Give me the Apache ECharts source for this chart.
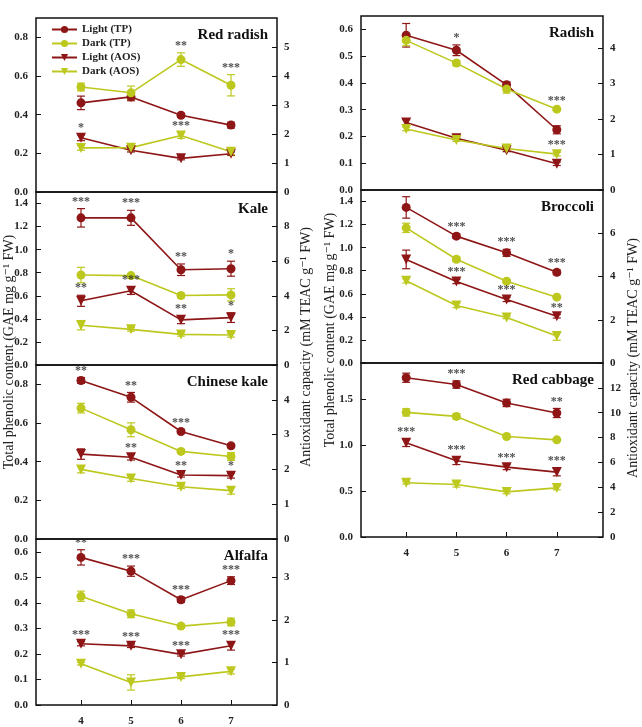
<!DOCTYPE html>
<html>
<head>
<meta charset="utf-8">
<script src="https://cdn.jsdelivr.net/npm/echarts@6/dist/echarts.min.js"></script>
<style>
  html, body { margin: 0; padding: 0; background: #fff; }
  #chart { width: 642px; height: 727px; }
</style>
</head>
<body>
<div id="chart"></div>
<script>
// sprout days on the x axis
const doses = [4, 5, 6, 7];
const panels = ['Red radish', 'Kale', 'Chinese kale', 'Alfalfa', 'Radish', 'Broccoli', 'Red cabbage'];

// total phenolic content (left axis), one row per panel
const lightTP = [
    [0.461, 0.492, 0.397, 0.346],
    [1.276, 1.276, 0.826, 0.835],
    [0.820, 0.733, 0.556, 0.482],
    [0.578, 0.524, 0.412, 0.487],
    [0.578, 0.522, 0.393, 0.225],
    [1.349, 1.100, 0.955, 0.786],
    [1.739, 1.665, 1.464, 1.354]
];
const lightTPErr = [
    [0.035, 0.02, 0.01, 0.015],
    [0.08, 0.065, 0.05, 0.065],
    [0.015, 0.025, 0.01, 0.01],
    [0.03, 0.02, 0.01, 0.015],
    [0.044, 0.02, 0.01, 0.015],
    [0.093, 0.02, 0.03, 0.02],
    [0.05, 0.04, 0.04, 0.05]
];
const darkTP = [
    [0.543, 0.513, 0.685, 0.552],
    [0.780, 0.775, 0.602, 0.608],
    [0.677, 0.565, 0.453, 0.427],
    [0.426, 0.357, 0.309, 0.325],
    [0.559, 0.474, 0.377, 0.302],
    [1.172, 0.900, 0.709, 0.571],
    [1.361, 1.317, 1.098, 1.061]
];
const darkTPErr = [
    [0.02, 0.035, 0.035, 0.055],
    [0.067, 0.015, 0.02, 0.053],
    [0.025, 0.036, 0.01, 0.02],
    [0.02, 0.015, 0.008, 0.015],
    [0.02, 0.01, 0.015, 0.005],
    [0.04, 0.02, 0.01, 0.01],
    [0.04, 0.03, 0.015, 0.015]
];

// antioxidant capacity (right axis)
const lightAOS = [
    [1.87, 1.44, 1.16, 1.32],
    [3.71, 4.29, 2.61, 2.74],
    [2.44, 2.35, 1.84, 1.82],
    [1.44, 1.39, 1.19, 1.39],
    [1.90, 1.46, 1.12, 0.74],
    [4.79, 3.77, 2.94, 2.16],
    [7.58, 6.13, 5.62, 5.22]
];
const lightAOSErr = [
    [0.1, 0.06, 0.05, 0.06],
    [0.32, 0.21, 0.22, 0.28],
    [0.15, 0.08, 0.06, 0.07],
    [0.05, 0.04, 0.04, 0.1],
    [0.08, 0.04, 0.04, 0.05],
    [0.43, 0.1, 0.1, 0.08],
    [0.3, 0.3, 0.2, 0.3]
];
const darkAOS = [
    [1.52, 1.53, 1.95, 1.39],
    [2.30, 2.06, 1.77, 1.73],
    [2.00, 1.74, 1.50, 1.39],
    [0.97, 0.53, 0.66, 0.79],
    [1.72, 1.41, 1.17, 1.01],
    [3.80, 2.66, 2.10, 1.25],
    [4.36, 4.22, 3.63, 3.95]
];
const darkAOSErr = [
    [0.08, 0.08, 0.1, 0.1],
    [0.27, 0.1, 0.1, 0.12],
    [0.1, 0.08, 0.05, 0.1],
    [0.03, 0.18, 0.04, 0.06],
    [0.05, 0.04, 0.05, 0.05],
    [0.1, 0.1, 0.05, 0.2],
    [0.1, 0.2, 0.15, 0.15]
];

// significance marks
const tpStars = [
    ['', '', '**', '***'],
    ['***', '***', '**', '*'],
    ['**', '**', '***', ''],
    ['**', '***', '***', '***'],
    ['', '*', '', '***'],
    ['', '***', '***', '***'],
    ['', '***', '', '**']
];
const aosStars = [
    ['*', '', '***', ''],
    ['**', '***', '**', '*'],
    ['', '**', '**', '*'],
    ['***', '***', '***', '***'],
    ['', '', '', '***'],
    ['', '***', '***', '**'],
    ['***', '***', '***', '***']
];

// axis ranges
const tpMax = [0.9, 1.5, 0.9, 0.65, 0.65, 1.5, 1.9];
const tpStep = [0.2, 0.2, 0.2, 0.1, 0.1, 0.2, 0.5];
const aosMax = [6, 10, 5, 3.9, 4.9, 8, 14];
const aosStep = [1, 2, 1, 1, 1, 2, 2];

const LIGHT = '#8e1616';
const DARK = '#bcc81e';
const SERIF = '"Liberation Serif", "DejaVu Serif", serif';

// panel boxes
const boxes = [
    { left: 36, width: 241, top: 18, height: 174 },
    { left: 36, width: 241, top: 192, height: 173 },
    { left: 36, width: 241, top: 365, height: 174 },
    { left: 36, width: 241, top: 539, height: 174 },
    { left: 361, width: 242, top: 16, height: 174 },
    { left: 361, width: 242, top: 190, height: 173 },
    { left: 361, width: 242, top: 363, height: 174 }
];
const bottomPanels = [3, 6];

function errItem(params, api) {
    const x = api.value(0);
    const p1 = api.coord([x, api.value(1)]);
    const p2 = api.coord([x, api.value(2)]);
    const w = 4;
    const style = { stroke: api.visual('color'), lineWidth: 1.2 };
    return {
        type: 'group',
        children: [
            { type: 'line', shape: { x1: p1[0], y1: p1[1], x2: p2[0], y2: p2[1] }, style: style },
            { type: 'line', shape: { x1: p1[0] - w, y1: p1[1], x2: p1[0] + w, y2: p1[1] }, style: style },
            { type: 'line', shape: { x1: p2[0] - w, y1: p2[1], x2: p2[0] + w, y2: p2[1] }, style: style }
        ]
    };
}

const grids = [], xAxes = [], yAxes = [], series = [], titles = [];

boxes.forEach(function (b, p) {
    const bottom = bottomPanels.indexOf(p) >= 0;
    grids.push({
        left: b.left, top: b.top, width: b.width, height: b.height,
        show: true, borderColor: '#111', borderWidth: 1.5
    });
    xAxes.push({
        type: 'value', gridIndex: p, min: 3.1, max: 7.92,
        axisLine: { show: false },
        splitLine: { show: false },
        axisTick: { show: bottom, inside: true, length: 5, customValues: doses, lineStyle: { color: '#111' } },
        axisLabel: {
            show: bottom, customValues: doses, margin: 11,
            fontFamily: SERIF, fontWeight: 'bold', fontSize: 11, color: '#222'
        }
    });
    yAxes.push({
        type: 'value', gridIndex: p, position: 'left', min: 0, max: tpMax[p], interval: tpStep[p],
        axisLine: { show: false },
        splitLine: { show: false },
        axisTick: { show: true, inside: true, length: 5, lineStyle: { color: '#111' } },
        axisLabel: {
            showMaxLabel: false, margin: 8,
            formatter: function (v) { return v.toFixed(1); },
            fontFamily: SERIF, fontWeight: 'bold', fontSize: 11, color: '#222'
        }
    });
    yAxes.push({
        type: 'value', gridIndex: p, position: 'right', min: 0, max: aosMax[p], interval: aosStep[p],
        axisLine: { show: false },
        splitLine: { show: false },
        axisTick: { show: true, inside: true, length: 5, lineStyle: { color: '#111' } },
        axisLabel: {
            showMaxLabel: false, margin: 7,
            fontFamily: SERIF, fontWeight: 'bold', fontSize: 11, color: '#222'
        }
    });

    titles.push({
        text: panels[p],
        right: 642 - (b.left + b.width - 9),
        top: b.top + 10,
        padding: 0,
        textStyle: { fontFamily: SERIF, fontWeight: 'bold', fontSize: 15, color: '#111' }
    });

    const sets = [
        { name: 'Light (TP)', v: lightTP[p], e: lightTPErr[p], c: LIGHT, y: 2 * p, sym: 'circle', rot: 0 },
        { name: 'Dark (TP)', v: darkTP[p], e: darkTPErr[p], c: DARK, y: 2 * p, sym: 'circle', rot: 0 },
        { name: 'Light (AOS)', v: lightAOS[p], e: lightAOSErr[p], c: LIGHT, y: 2 * p + 1, sym: 'triangle', rot: 180 },
        { name: 'Dark (AOS)', v: darkAOS[p], e: darkAOSErr[p], c: DARK, y: 2 * p + 1, sym: 'triangle', rot: 180 }
    ];
    sets.forEach(function (s) {
        series.push({
            type: 'custom', name: 'err', xAxisIndex: p, yAxisIndex: s.y,
            renderItem: errItem, itemStyle: { color: s.c }, z: 2,
            encode: { x: 0, y: [1, 2] },
            data: doses.map(function (d, i) { return [d, s.v[i] - s.e[i], s.v[i] + s.e[i]]; })
        });
        series.push({
            type: 'line', name: s.name, xAxisIndex: p, yAxisIndex: s.y,
            symbol: s.sym, symbolSize: s.sym === 'circle' ? 9 : 10, symbolRotate: s.rot,
            itemStyle: { color: s.c }, lineStyle: { color: s.c, width: 1.6 }, z: 3,
            data: doses.map(function (d, i) { return [d, s.v[i]]; })
        });
    });

    // stars above the taller error bar of each light/dark pair
    const starSets = [
        { marks: tpStars[p], a: sets[0], b: sets[1], y: 2 * p },
        { marks: aosStars[p], a: sets[2], b: sets[3], y: 2 * p + 1 }
    ];
    starSets.forEach(function (st) {
        const pts = [];
        doses.forEach(function (d, i) {
            if (!st.marks[i]) return;
            const top = Math.max(st.a.v[i] + st.a.e[i], st.b.v[i] + st.b.e[i]);
            pts.push([d, top, st.marks[i]]);
        });
        series.push({
            type: 'scatter', name: 'stars', xAxisIndex: p, yAxisIndex: st.y,
            symbolSize: 0, z: 4, silent: true,
            label: {
                show: true, position: 'top', distance: 1,
                formatter: function (q) { return q.value[2]; },
                fontFamily: SERIF, fontWeight: 'bold', fontSize: 12, color: '#222'
            },
            data: pts
        });
    });
});

const tpTitle = 'Total phenolic content (GAE mg g⁻¹ FW)';
const aosTitle = 'Antioxidant capacity (mM TEAC g⁻¹ FW)';
function sideTitle(text, x, y) {
    return {
        type: 'text', x: x, y: y, rotation: Math.PI / 2,
        style: {
            text: text, fill: '#222', font: '14px ' + SERIF,
            align: 'center', verticalAlign: 'middle',
            textAlign: 'center', textVerticalAlign: 'middle'
        }
    };
}

const chart = echarts.init(document.getElementById('chart'));
chart.setOption({
    animation: false,
    backgroundColor: '#fff',
    title: titles,
    legend: {
        data: ['Light (TP)', 'Dark (TP)', 'Light (AOS)', 'Dark (AOS)'],
        orient: 'vertical', left: 46, top: 19,
        itemWidth: 25, itemHeight: 9, itemGap: 3,
        textStyle: { fontFamily: SERIF, fontWeight: 'bold', fontSize: 11, color: '#222' }
    },
    grid: grids,
    xAxis: xAxes,
    yAxis: yAxes,
    series: series,
    graphic: [
        sideTitle(tpTitle, 9, 352),
        sideTitle(aosTitle, 306, 347),
        sideTitle(tpTitle, 330, 330),
        sideTitle(aosTitle, 633, 358)
    ]
});
</script>
</body>
</html>
